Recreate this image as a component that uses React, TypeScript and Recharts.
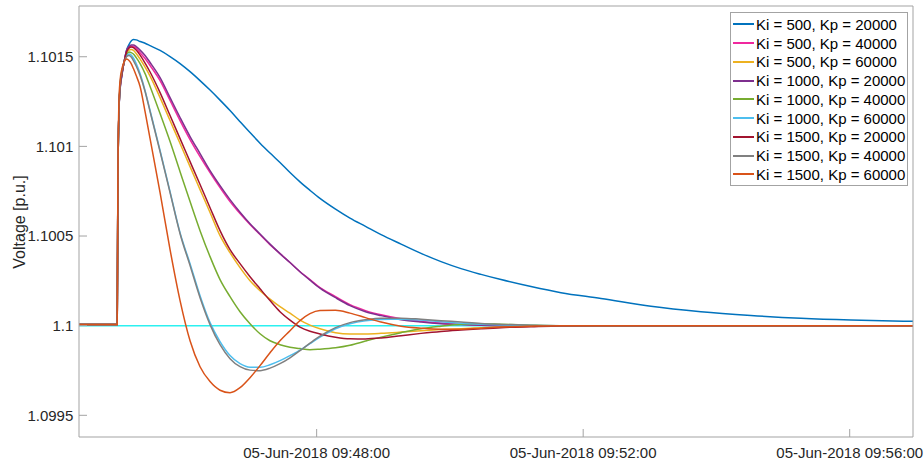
import React from "react";
import { LineChart, Line, XAxis, YAxis, ReferenceLine, Legend } from "recharts";

// seconds after 05-Jun-2018 09:44:00
const timeSec = [26, 60.4, 61, 62, 63, 64.5, 66, 67.5, 69, 71, 73, 75, 77.5, 81, 85.5, 90, 99, 108, 117, 126, 135, 144, 153, 162, 171, 180, 189, 198, 207, 216, 225, 234, 243, 257, 270, 284, 298, 316, 334, 352, 370, 388, 406, 433, 460, 496, 541, 586, 631, 676, 721, 777];

const ki500kp20000 = [1.100006, 1.100006, 1.100781, 1.1012, 1.101317, 1.101389, 1.101451, 1.101501, 1.10154, 1.101568, 1.101588, 1.101596, 1.101594, 1.101585, 1.101575, 1.101562, 1.101535, 1.101501, 1.101462, 1.101417, 1.101367, 1.101314, 1.101258, 1.1012, 1.101138, 1.101077, 1.101018, 1.100963, 1.10091, 1.100854, 1.100802, 1.100755, 1.10071, 1.10065, 1.1006, 1.100554, 1.100508, 1.100455, 1.100403, 1.100357, 1.100318, 1.100286, 1.100257, 1.100218, 1.100184, 1.100152, 1.100108, 1.100078, 1.100057, 1.100041, 1.100031, 1.100024];
const ki500kp40000 = [1.100006, 1.100006, 1.100781, 1.1012, 1.101322, 1.101395, 1.101451, 1.101498, 1.101535, 1.101554, 1.10156, 1.101557, 1.101548, 1.101523, 1.10149, 1.101451, 1.101367, 1.101256, 1.101144, 1.101038, 1.100943, 1.100854, 1.10077, 1.100692, 1.100625, 1.100564, 1.100508, 1.100452, 1.100402, 1.100352, 1.100301, 1.100257, 1.100212, 1.100162, 1.100117, 1.100084, 1.100061, 1.100039, 1.100025, 1.100015, 1.100008, 1.100004, 1.100002, 1.1, 1.1, 1.1, 1.1, 1.1, 1.1, 1.1, 1.1, 1.1];
const ki500kp60000 = [1.100006, 1.100006, 1.100781, 1.1012, 1.101328, 1.101401, 1.101451, 1.101493, 1.101521, 1.101537, 1.10154, 1.101535, 1.101518, 1.101487, 1.101442, 1.101392, 1.101272, 1.101144, 1.101016, 1.100887, 1.100759, 1.100631, 1.100502, 1.100407, 1.100324, 1.100251, 1.100195, 1.100148, 1.100106, 1.10007, 1.100031, 1.100003, 1.099983, 1.099961, 1.099954, 1.099954, 1.099957, 1.099964, 1.099972, 1.099978, 1.099983, 1.099989, 1.099993, 1.099997, 1.099999, 1.1, 1.1, 1.1, 1.1, 1.1, 1.1, 1.1];
const ki1000kp20000 = [1.100006, 1.100006, 1.100781, 1.1012, 1.101322, 1.101395, 1.101451, 1.101498, 1.101537, 1.101557, 1.101565, 1.101565, 1.101557, 1.101537, 1.101507, 1.101468, 1.101384, 1.101272, 1.101161, 1.101055, 1.10096, 1.100865, 1.100781, 1.100703, 1.100633, 1.100569, 1.100511, 1.100455, 1.100402, 1.100352, 1.100301, 1.100254, 1.100209, 1.100156, 1.100112, 1.100078, 1.100056, 1.100033, 1.10002, 1.100011, 1.100006, 1.100002, 1.1, 1.1, 1.1, 1.1, 1.1, 1.1, 1.1, 1.1, 1.1, 1.1];
const ki1000kp40000 = [1.100006, 1.100006, 1.100781, 1.1012, 1.101334, 1.101406, 1.101456, 1.10149, 1.101512, 1.101526, 1.101523, 1.101515, 1.101495, 1.101462, 1.101406, 1.101334, 1.101183, 1.101027, 1.100859, 1.100692, 1.10053, 1.100385, 1.100257, 1.100162, 1.100078, 1.100011, 1.099955, 1.099916, 1.099894, 1.09988, 1.099872, 1.099866, 1.099869, 1.099877, 1.099891, 1.099914, 1.099936, 1.099961, 1.099983, 1.099997, 1.100008, 1.100011, 1.100008, 1.100003, 1.1, 1.1, 1.1, 1.1, 1.1, 1.1, 1.1, 1.1];
const ki1000kp60000 = [1.100006, 1.100006, 1.100781, 1.1012, 1.101339, 1.101412, 1.101456, 1.101487, 1.101507, 1.101515, 1.101509, 1.101493, 1.101462, 1.101406, 1.101311, 1.1012, 1.100977, 1.100748, 1.100519, 1.100346, 1.100167, 1.100017, 1.099911, 1.099833, 1.099788, 1.099768, 1.099768, 1.099782, 1.099805, 1.099833, 1.099863, 1.0999, 1.099936, 1.099983, 1.100011, 1.100028, 1.100035, 1.100036, 1.100031, 1.100022, 1.100014, 1.100008, 1.100004, 1.100001, 1.1, 1.1, 1.1, 1.1, 1.1, 1.1, 1.1, 1.1];
const ki1500kp20000 = [1.100006, 1.100006, 1.100781, 1.1012, 1.101328, 1.101401, 1.101451, 1.101495, 1.101529, 1.101548, 1.101554, 1.101551, 1.101537, 1.101509, 1.101465, 1.101415, 1.1013, 1.101172, 1.101043, 1.100915, 1.100787, 1.100658, 1.10053, 1.100424, 1.100346, 1.100273, 1.100206, 1.10014, 1.100078, 1.100031, 1.099992, 1.099969, 1.099954, 1.099936, 1.099927, 1.099926, 1.099931, 1.099944, 1.099957, 1.099968, 1.099976, 1.099983, 1.099989, 1.099994, 1.099998, 1.099999, 1.1, 1.1, 1.1, 1.1, 1.1, 1.1];
const ki1500kp40000 = [1.100006, 1.100006, 1.100781, 1.1012, 1.101345, 1.101417, 1.101456, 1.101484, 1.101501, 1.101507, 1.101498, 1.101479, 1.101448, 1.101395, 1.101306, 1.101194, 1.100971, 1.100742, 1.100513, 1.100335, 1.100156, 1.100006, 1.099894, 1.099816, 1.099771, 1.099752, 1.099749, 1.099763, 1.099788, 1.099821, 1.099861, 1.099902, 1.099941, 1.099989, 1.100017, 1.100033, 1.100042, 1.100042, 1.100036, 1.100028, 1.10002, 1.100012, 1.100007, 1.100002, 1.1, 1.1, 1.1, 1.1, 1.1, 1.1, 1.1, 1.1];
const ki1500kp60000 = [1.100006, 1.100006, 1.100809, 1.101256, 1.101367, 1.101428, 1.101462, 1.101481, 1.101487, 1.101479, 1.101462, 1.101434, 1.101395, 1.101334, 1.101194, 1.101043, 1.100742, 1.100424, 1.10014, 1.099916, 1.099771, 1.099688, 1.09964, 1.099626, 1.099654, 1.09971, 1.099777, 1.099849, 1.099916, 1.099972, 1.100028, 1.100067, 1.100084, 1.100086, 1.10007, 1.100045, 1.10002, 1.099997, 1.099986, 1.09998, 1.09998, 1.099986, 1.099992, 1.099997, 1.1, 1.1, 1.1, 1.1, 1.1, 1.1, 1.1, 1.1];

const seriesValues = [ki500kp20000, ki500kp40000, ki500kp60000, ki1000kp20000, ki1000kp40000, ki1000kp60000, ki1500kp20000, ki1500kp40000, ki1500kp60000];
const seriesNames = [
  "Ki = 500, Kp = 20000", "Ki = 500, Kp = 40000", "Ki = 500, Kp = 60000",
  "Ki = 1000, Kp = 20000", "Ki = 1000, Kp = 40000", "Ki = 1000, Kp = 60000",
  "Ki = 1500, Kp = 20000", "Ki = 1500, Kp = 40000", "Ki = 1500, Kp = 60000",
];
const seriesColors = ["#0072BD", "#F0289E", "#EDB120", "#7E2F8E", "#77AC30", "#4DBEEE", "#A2142F", "#808080", "#D95319"];

const setpoint = 1.1;
const timeTicks = [240, 480, 720];
const voltTicks = [1.0995, 1.1, 1.1005, 1.101, 1.1015];

const data = timeSec.map((t, i) => {
  const row: Record<string, number> = { t };
  seriesValues.forEach((s, k) => { row[`s${k}`] = s[i]; });
  return row;
});

const FONT = "'Liberation Sans', Arial, Helvetica, sans-serif";
const AXIS = "#a3a3a3";
const TEXT = "#262626";

const pad = (n: number) => String(n).padStart(2, "0");
const fmtTime = (t: number) => {
  const total = 9 * 3600 + 44 * 60 + Math.round(t);
  return `05-Jun-2018 ${pad(Math.floor(total / 3600))}:${pad(Math.floor(total / 60) % 60)}:${pad(total % 60)}`;
};

const xDomain = [26, 777];
const yDomain = [1.099379, 1.101783];

function LegendBox() {
  return (
    <div style={{ border: `1px solid ${AXIS}`, background: "#fff", padding: "2px 0 1px 0", fontFamily: FONT, fontSize: 15, color: "#000" }}>
      {seriesNames.map((n, i) => (
        <div key={n} style={{ display: "flex", alignItems: "center", height: 18.75, whiteSpace: "nowrap" }}>
          <span style={{ display: "inline-block", width: 21, height: 2, background: seriesColors[i], marginLeft: 2, marginRight: 2 }} />
          <span>{n}</span>
        </div>
      ))}
    </div>
  );
}

export default function App() {
  return (
    <div style={{ width: 924, height: 463, background: "#fff" }}>
      <style>{"body{margin:0}"}</style>
      <LineChart width={924} height={463} data={data} margin={{ top: 5, right: 10, bottom: 0, left: 0 }} style={{ fontFamily: FONT }}>
        <XAxis xAxisId="t" dataKey="t" type="number" domain={xDomain} allowDataOverflow ticks={timeTicks}
          tickFormatter={fmtTime} height={26} tickSize={-8} tickMargin={18.3}
          axisLine={{ stroke: AXIS }} tickLine={{ stroke: AXIS }} tick={{ fill: TEXT, fontSize: 15 }} />
        <XAxis xAxisId="top" orientation="top" dataKey="t" type="number" domain={xDomain} allowDataOverflow ticks={timeTicks}
          height={1} tickSize={-8} tick={false} axisLine={{ stroke: AXIS }} tickLine={{ stroke: AXIS }} />
        <YAxis yAxisId="v" type="number" domain={yDomain} allowDataOverflow ticks={voltTicks}
          tickFormatter={(v: number) => String(v)} width={79} tickSize={-8} tickMargin={13.7}
          axisLine={{ stroke: AXIS }} tickLine={{ stroke: AXIS }} tick={{ fill: TEXT, fontSize: 15 }}
          label={{
            content: () => (
              <text x={25} y={222} transform="rotate(-90 25 222)" textAnchor="middle" fontSize={16} fill={TEXT} fontFamily={FONT}>
                Voltage [p.u.]
              </text>
            ),
          }} />
        <YAxis yAxisId="r" orientation="right" type="number" domain={yDomain} allowDataOverflow ticks={voltTicks}
          width={1} tickSize={-8} tick={false} axisLine={{ stroke: AXIS }} tickLine={{ stroke: AXIS }} />
        <ReferenceLine xAxisId="t" yAxisId="v" y={setpoint} stroke="#2CF0F0" strokeWidth={1.5} />
        {seriesNames.map((n, k) => (
          <Line key={n} xAxisId="t" yAxisId="v" type="monotone" dataKey={`s${k}`} name={n}
            stroke={seriesColors[k]} strokeWidth={1.5} dot={false} activeDot={false} isAnimationActive={false} />
        ))}
        <Legend layout="vertical" align="center" verticalAlign="middle"
          wrapperStyle={{ left: 730, top: 12, width: 178 }} content={() => <LegendBox />} />
      </LineChart>
    </div>
  );
}
